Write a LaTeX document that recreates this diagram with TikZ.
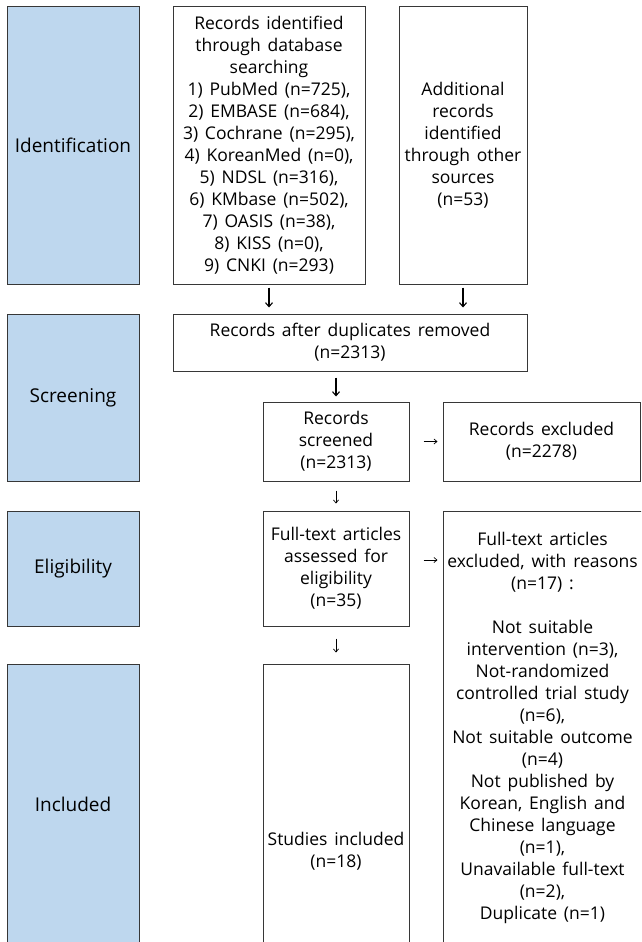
\documentclass[tikz,border=0pt]{standalone}
\usepackage{fontspec}
\setmainfont[WordSpace=1.5]{Open Sans}
\usetikzlibrary{arrows.meta}
\definecolor{phase}{RGB}{190,215,238}
\definecolor{edge}{RGB}{55,55,55}
\begin{document}
\begin{tikzpicture}[x=1pt,y=-1pt,
  box/.style={draw=edge, line width=1pt, fill=white, inner sep=0pt, align=center, font=\fontsize{17.5}{22}\selectfont},
  phasebox/.style={draw=edge, line width=1pt, fill=phase, inner sep=0pt, align=center, font=\fontsize{19}{23}\selectfont},
  big/.style={line width=1.1pt, -{Straight Barb[length=4pt,width=7pt]}},
  small/.style={line width=0.7pt, -{Straight Barb[length=3pt,width=5pt]}}]
\useasboundingbox (0,0) rectangle (641,942);
\clip (0,0) rectangle (641,942);
\fill[white] (0,0) rectangle (641,942);
% phase labels
\node[phasebox, minimum width=132pt, minimum height=277pt] (idl) at (73,145.5) {Identification};
\node[phasebox, minimum width=132pt, minimum height=167pt] (scl) at (73,397.5) {Screening};
\node[phasebox, minimum width=132pt, minimum height=115pt] (ell) at (73,568.5) {Eligibility};
\node[phasebox, minimum width=132pt, minimum height=280pt] (inl) at (73,804) {Included};
% boxes
\node[box, minimum width=192pt, minimum height=277pt] (db) at (269,145.5) {Records identified\\through database\\searching\\1) PubMed (n=725),\\2) EMBASE (n=684),\\3) Cochrane (n=295),\\4) KoreanMed (n=0),\\5) NDSL (n=316),\\6) KMbase (n=502),\\7) OASIS (n=38),\\8) KISS (n=0),\\9) CNKI (n=293)};
\node[box, minimum width=128pt, minimum height=277pt] (oth) at (463,145.5) {Additional\\records\\identified\\through other\\sources\\(n=53)};
\node[box, minimum width=354pt, minimum height=57pt] (dup) at (350,342.5) {Records after duplicates removed\\(n=2313)};
\node[box, minimum width=146pt, minimum height=79pt] (scr) at (336,441.5) {Records\\screened\\(n=2313)};
\node[box, minimum width=197pt, minimum height=79pt] (exc) at (541.5,441.5) {Records excluded\\(n=2278)};
\node[box, minimum width=146pt, minimum height=115pt] (ass) at (336,568.5) {Full-text articles\\assessed for\\eligibility\\(n=35)};
\node[box, minimum width=199pt, minimum height=433pt] (ftx) at (542.5,727.5) {Full-text articles\\excluded, with reasons\\(n=17) :\\ \strut\\Not suitable\\intervention (n=3),\\Not-randomized\\controlled trial study\\(n=6),\\Not suitable outcome\\(n=4)\\Not published by\\Korean, English and\\Chinese language\\(n=1),\\Unavailable full-text\\(n=2),\\Duplicate (n=1)};
\node[box, minimum width=146pt, minimum height=374pt] (stu) at (336,851) {Studies included\\(n=18)};
% connectors
\draw[big, shorten <=3pt, shorten >=6pt] (db.south) -- (db.south |- dup.north);
\draw[big, shorten <=3pt, shorten >=6pt] (oth.south) -- (oth.south |- dup.north);
\draw[big, shorten <=6pt, shorten >=5pt] (scr.north |- dup.south) -- (scr.north);
\draw[small, shorten <=14pt, shorten >=5pt] (scr.east) -- (exc.west);
\draw[small, shorten <=9pt, shorten >=7pt] (scr.south) -- (ass.north);
\draw[small, shorten <=14pt, shorten >=5pt] ([yshift=8.5pt]ass.east) -- ([yshift=8.5pt]ass.east -| ftx.west);
\draw[small, shorten <=12pt, shorten >=11pt] (ass.south) -- (stu.north);
\end{tikzpicture}
\end{document}
